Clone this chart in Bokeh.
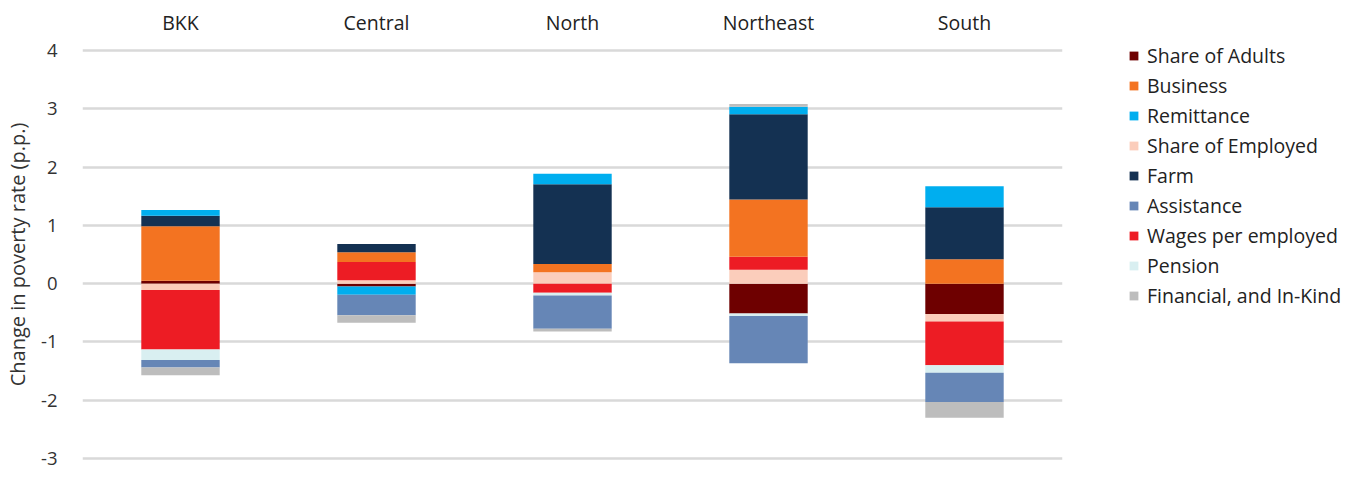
import numpy as np
from bokeh.plotting import figure
from bokeh.models import Legend, LegendItem, FixedTicker, Range1d, FactorRange, PrintfTickFormatter
from bokeh.embed import file_html
from bokeh.resources import INLINE

regions = ["BKK", "Central", "North", "Northeast", "South"]

share_adults = [0.05, -0.05, 0.0, -0.51, -0.52]
share_employed = [-0.11, 0.06, 0.195, 0.24, -0.13]
wages = [-1.02, 0.31, -0.155, 0.22, -0.75]
business = [0.935, 0.17, 0.14, 0.985, 0.42]
farm = [0.18, 0.14, 1.37, 1.46, 0.89]
remittance = [0.10, -0.14, 0.18, 0.13, 0.36]
pension = [-0.18, 0.0, -0.05, -0.045, -0.13]
assistance = [-0.13, -0.35, -0.57, -0.81, -0.50]
financial = [-0.13, -0.13, -0.045, 0.045, -0.27]

series = {
    "Share of Adults": (share_adults, "#6e0000"),
    "Business": (business, "#f37321"),
    "Remittance": (remittance, "#00aeef"),
    "Share of Employed": (share_employed, "#fbcdbb"),
    "Farm": (farm, "#143152"),
    "Assistance": (assistance, "#6686b6"),
    "Wages per employed": (wages, "#ed1c24"),
    "Pension": (pension, "#d9eff1"),
    "Financial, and In-Kind": (financial, "#bdbdbd"),
}
legend_order = list(series.keys())
stack_order = ["Share of Adults", "Share of Employed", "Wages per employed", "Business",
               "Farm", "Remittance", "Pension", "Assistance", "Financial, and In-Kind"]

FONT = "Open Sans"
FS = "19.5px"

p = figure(x_range=FactorRange(*regions, range_padding=0.0), y_range=Range1d(-3.05, 4.05),
           frame_width=980, frame_height=414,
           output_backend="svg", toolbar_location=None, x_axis_location="above",
           min_border_left=70, min_border_top=38, min_border_bottom=11, min_border_right=0)
p.outline_line_color = None
p.background_fill_color = "white"

pos = np.zeros(len(regions))
neg = np.zeros(len(regions))
renderers = {}
for name in stack_order:
    vals = np.array(series[name][0], dtype=float)
    bottom = np.where(vals >= 0, pos, neg)
    top = bottom + vals
    pos = np.where(vals >= 0, top, pos)
    neg = np.where(vals < 0, top, neg)
    r = p.vbar(x=regions, bottom=bottom, top=top, width=0.4,
               fill_color=series[name][1], line_color=None)
    renderers[name] = r

items = [LegendItem(label=n, renderers=[renderers[n]]) for n in legend_order]
legend = Legend(items=items, border_line_color=None,
                label_text_font=FONT, label_text_font_size=FS, label_text_color="#222222",
                glyph_width=11, glyph_height=11, label_height=20, spacing=3,
                label_standoff=8, margin=0, padding=0)
legend.location = (66, 152)
p.add_layout(legend, "right")

p.xgrid.grid_line_color = None
p.ygrid.grid_line_color = "#d9d9d9"
p.ygrid.grid_line_width = 2.5
p.ygrid.ticker = FixedTicker(ticks=[-3, -2, -1, 0, 1, 2, 3, 4])

p.yaxis.ticker = FixedTicker(ticks=[-3, -2, -1, 0, 1, 2, 3, 4])
p.yaxis.formatter = PrintfTickFormatter(format="%d")
p.yaxis.axis_line_color = None
p.yaxis.major_tick_line_color = None
p.yaxis.minor_tick_line_color = None
p.yaxis.major_label_text_font = FONT
p.yaxis.major_label_text_font_size = "18.5px"
p.yaxis.major_label_text_color = "#333333"
p.yaxis.major_label_standoff = 19
p.yaxis.axis_label = "Change in poverty rate (p.p.)"
p.yaxis.axis_label_text_font = FONT
p.yaxis.axis_label_text_font_size = "20px"
p.yaxis.axis_label_text_font_style = "normal"
p.yaxis.axis_label_text_color = "#333333"
p.yaxis.axis_label_standoff = 7

p.xaxis.axis_line_color = None
p.xaxis.major_tick_line_color = None
p.xaxis.major_label_text_font = FONT
p.xaxis.major_label_text_font_size = FS
p.xaxis.major_label_text_color = "#222222"
p.xaxis.major_label_standoff = 6
p.xaxis.axis_label = " "
p.xaxis.axis_label_text_font_size = "1px"
p.xaxis.axis_label_standoff = 1

open("out.html", "w").write(file_html(p, INLINE))
